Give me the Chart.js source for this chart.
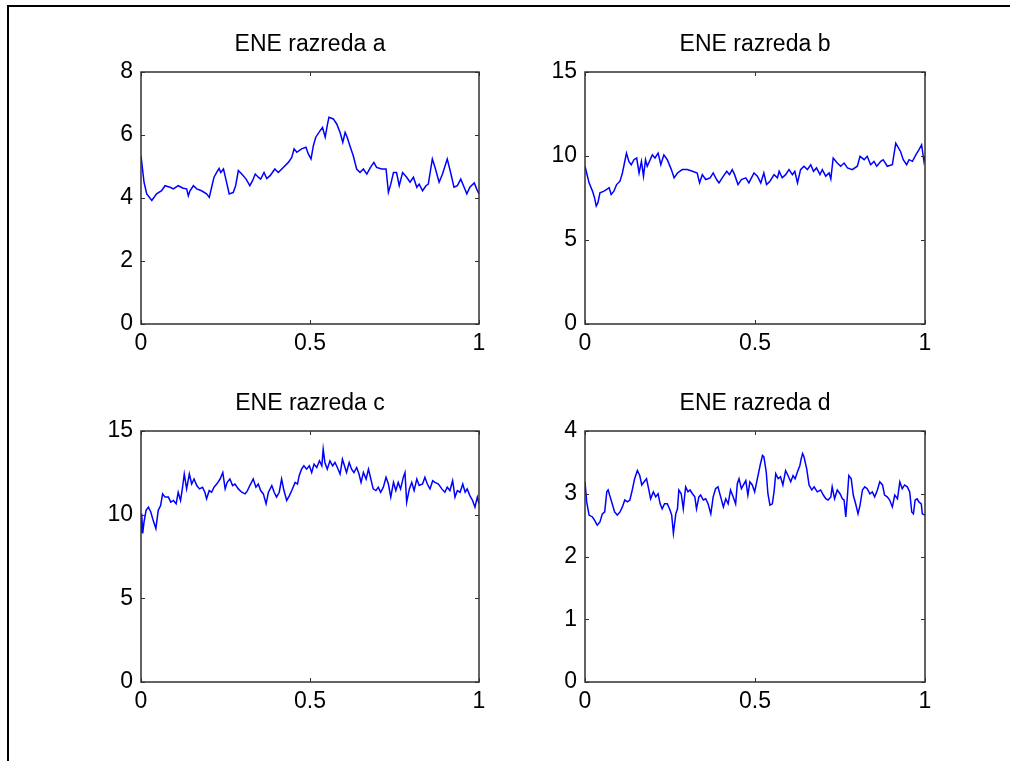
<!DOCTYPE html>
<html>
<head>
<meta charset="utf-8">
<script src="https://cdn.jsdelivr.net/npm/chart.js@4/dist/chart.umd.min.js"></script>
<style>
  html, body { margin: 0; padding: 0; background: #fff; overflow: hidden; }
  body { width: 1010px; height: 761px; position: relative; }
  .frame { position: absolute; left: 7px; top: 5px; width: 1010px; height: 761px;
           border-left: 2px solid #000; border-top: 2px solid #000; }
  canvas { position: absolute; }
</style>
</head>
<body>
<div class="frame"></div>
<canvas id="chartA" width="450" height="369" style="left:50px;top:0px"></canvas>
<canvas id="chartB" width="450" height="369" style="left:500px;top:0px"></canvas>
<canvas id="chartC" width="450" height="368" style="left:50px;top:359px"></canvas>
<canvas id="chartD" width="450" height="368" style="left:500px;top:359px"></canvas>
<script>
// razred a
const aX = [0,0.009,0.017,0.032,0.046,0.061,0.071,0.086,0.096,0.110,0.125,0.135,0.140,0.145,0.155,0.165,0.179,0.194,0.202,0.209,0.216,0.224,0.231,0.236,0.244,0.251,0.261,0.273,0.280,0.288,0.298,0.311,0.322,0.330,0.338,0.347,0.354,0.364,0.372,0.382,0.396,0.406,0.421,0.436,0.446,0.453,0.461,0.475,0.488,0.495,0.503,0.510,0.517,0.530,0.537,0.545,0.551,0.556,0.569,0.579,0.589,0.597,0.604,0.610,0.618,0.628,0.638,0.648,0.658,0.668,0.679,0.689,0.697,0.712,0.725,0.732,0.739,0.747,0.756,0.764,0.774,0.786,0.796,0.806,0.816,0.823,0.833,0.843,0.850,0.862,0.870,0.882,0.892,0.906,0.916,0.926,0.936,0.946,0.956,0.964,0.973,0.986,0.993,1.0];
const aY = [5.34,4.50,4.13,3.92,4.13,4.23,4.39,4.34,4.29,4.39,4.31,4.29,4.07,4.23,4.39,4.29,4.23,4.13,4.02,4.34,4.66,4.81,4.94,4.81,4.92,4.60,4.13,4.18,4.39,4.87,4.76,4.60,4.39,4.55,4.76,4.66,4.60,4.81,4.62,4.71,4.92,4.81,4.97,5.13,5.29,5.56,5.45,5.56,5.61,5.40,5.24,5.66,5.93,6.14,6.24,5.93,6.30,6.56,6.51,6.35,6.08,5.77,6.08,5.93,5.66,5.34,4.92,4.81,4.92,4.76,4.97,5.13,4.97,4.92,4.92,4.18,4.44,4.81,4.81,4.39,4.81,4.66,4.50,4.66,4.34,4.44,4.23,4.39,4.44,5.24,4.97,4.50,4.76,5.24,4.81,4.34,4.39,4.60,4.34,4.13,4.34,4.48,4.29,4.13];

// razred b
const bX = [0,0.012,0.022,0.028,0.033,0.038,0.044,0.056,0.064,0.071,0.077,0.085,0.093,0.103,0.110,0.115,0.122,0.129,0.136,0.144,0.152,0.159,0.166,0.172,0.178,0.183,0.198,0.206,0.215,0.223,0.232,0.242,0.254,0.262,0.272,0.286,0.301,0.316,0.330,0.337,0.345,0.355,0.368,0.377,0.387,0.394,0.407,0.417,0.425,0.433,0.440,0.450,0.460,0.473,0.482,0.497,0.507,0.517,0.526,0.534,0.544,0.556,0.566,0.571,0.580,0.590,0.600,0.610,0.617,0.625,0.634,0.644,0.654,0.664,0.672,0.681,0.691,0.698,0.708,0.718,0.723,0.730,0.742,0.752,0.762,0.772,0.786,0.801,0.809,0.821,0.830,0.840,0.850,0.858,0.870,0.877,0.889,0.904,0.914,0.928,0.936,0.946,0.953,0.963,0.973,0.982,0.990,0.997,1.0];
const bY = [9.39,8.40,7.91,7.52,7.02,7.22,7.81,7.91,8.01,8.11,7.71,7.91,8.30,8.50,8.99,9.48,10.17,9.68,9.48,9.78,9.88,8.99,9.68,8.80,9.78,9.39,10.07,9.88,10.17,9.48,10.07,9.78,9.19,8.70,8.99,9.19,9.19,9.09,8.99,8.40,8.89,8.60,8.70,8.99,8.60,8.40,8.80,9.09,8.89,9.19,8.89,8.30,8.60,8.70,8.40,8.99,8.80,8.40,8.99,8.30,8.50,8.89,8.70,9.09,8.70,8.89,9.19,8.89,9.09,8.40,9.19,9.39,9.19,9.48,9.09,9.29,8.89,9.19,8.80,8.99,8.64,9.88,9.58,9.39,9.58,9.29,9.19,9.39,9.98,9.78,9.98,9.48,9.68,9.39,9.68,9.78,9.39,9.48,10.76,10.27,9.78,9.48,9.78,9.68,10.07,10.37,10.67,9.68,9.98];

// razred c
const cX = [0,0.002,0.005,0.009,0.015,0.022,0.029,0.036,0.044,0.051,0.058,0.064,0.071,0.081,0.088,0.096,0.104,0.110,0.117,0.123,0.128,0.135,0.143,0.150,0.157,0.165,0.173,0.182,0.189,0.194,0.202,0.209,0.216,0.224,0.234,0.242,0.249,0.255,0.263,0.271,0.278,0.288,0.298,0.308,0.315,0.322,0.332,0.340,0.347,0.354,0.362,0.370,0.377,0.387,0.394,0.401,0.409,0.416,0.423,0.431,0.439,0.446,0.456,0.463,0.468,0.475,0.482,0.490,0.498,0.505,0.512,0.520,0.528,0.535,0.539,0.544,0.551,0.559,0.567,0.574,0.581,0.589,0.596,0.602,0.608,0.616,0.623,0.630,0.638,0.645,0.651,0.658,0.666,0.673,0.680,0.687,0.695,0.702,0.709,0.717,0.725,0.732,0.739,0.747,0.754,0.761,0.768,0.776,0.781,0.786,0.794,0.801,0.808,0.816,0.823,0.833,0.840,0.847,0.855,0.863,0.870,0.880,0.890,0.899,0.906,0.914,0.922,0.929,0.936,0.944,0.952,0.959,0.965,0.973,0.981,0.988,0.995,1.0];
const cY = [8.97,10.06,8.88,9.57,10.26,10.45,10.16,9.66,9.17,10.26,10.55,11.24,11.05,11.05,10.75,10.85,10.65,11.34,10.85,11.64,12.43,11.54,12.43,11.83,12.13,11.74,11.54,11.64,11.34,10.95,11.44,11.34,11.64,11.83,12.13,12.52,11.54,11.93,12.13,11.74,11.83,11.54,11.34,11.24,11.44,11.74,12.13,11.64,11.83,11.44,11.24,10.65,11.34,11.74,11.34,11.05,11.34,12.13,11.44,10.85,11.14,11.44,11.93,11.83,12.33,12.72,12.92,12.72,12.92,12.52,13.02,12.82,13.22,12.92,13.91,13.12,12.72,13.22,12.92,13.12,12.82,12.43,13.31,12.92,12.52,13.12,12.72,12.52,12.82,12.43,11.93,12.52,12.13,12.72,12.13,11.54,11.44,11.64,11.34,11.64,12.23,11.83,11.05,11.93,11.44,11.93,11.54,12.23,12.52,10.75,11.54,11.93,11.44,12.13,11.74,11.83,12.23,11.83,11.54,12.03,11.93,11.83,11.54,11.34,11.64,11.44,12.03,11.05,11.44,11.34,11.83,11.34,11.54,11.14,10.85,10.45,11.05,10.65];

// razred d
const dX = [0,0.005,0.012,0.022,0.028,0.036,0.044,0.051,0.058,0.064,0.068,0.074,0.080,0.087,0.095,0.103,0.110,0.117,0.125,0.132,0.139,0.146,0.154,0.161,0.167,0.174,0.181,0.186,0.193,0.201,0.208,0.215,0.221,0.227,0.234,0.242,0.250,0.255,0.260,0.267,0.272,0.276,0.283,0.289,0.296,0.303,0.309,0.316,0.323,0.328,0.335,0.340,0.348,0.355,0.362,0.370,0.377,0.384,0.391,0.399,0.407,0.414,0.421,0.428,0.436,0.443,0.448,0.453,0.460,0.466,0.473,0.479,0.485,0.492,0.499,0.507,0.515,0.522,0.526,0.533,0.538,0.544,0.551,0.556,0.561,0.568,0.575,0.582,0.590,0.597,0.605,0.612,0.618,0.625,0.632,0.636,0.640,0.644,0.652,0.659,0.667,0.674,0.683,0.693,0.701,0.708,0.715,0.723,0.727,0.734,0.742,0.750,0.757,0.762,0.767,0.772,0.776,0.783,0.789,0.796,0.803,0.809,0.816,0.823,0.830,0.838,0.845,0.852,0.860,0.867,0.875,0.881,0.889,0.896,0.904,0.911,0.919,0.926,0.933,0.940,0.948,0.955,0.961,0.966,0.971,0.977,0.982,0.989,0.992,1.0];
const dY = [3.19,2.87,2.66,2.63,2.58,2.50,2.55,2.68,2.71,3.03,3.06,2.95,2.84,2.71,2.66,2.71,2.79,2.90,2.87,2.90,3.06,3.24,3.37,3.29,3.14,3.19,3.24,3.11,2.92,3.03,2.95,3.00,2.84,2.76,2.84,2.84,2.74,2.66,2.37,2.68,2.76,3.06,3.00,2.76,3.11,3.03,3.06,3.00,2.95,2.76,2.95,2.98,2.90,2.92,2.84,2.68,2.95,3.08,3.11,2.95,2.79,2.92,2.84,3.06,2.95,2.84,3.16,3.24,3.08,3.14,3.21,2.98,3.19,3.14,3.03,3.24,3.45,3.61,3.59,3.35,3.00,2.82,2.84,3.03,3.32,3.24,3.27,3.14,3.37,3.29,3.19,3.29,3.24,3.35,3.45,3.56,3.64,3.59,3.40,3.14,3.06,3.11,3.03,3.06,2.98,2.92,2.90,2.95,3.11,2.92,3.06,3.00,2.92,2.90,2.63,2.98,3.29,3.24,2.98,2.84,2.68,2.82,3.06,3.11,3.08,3.00,3.03,2.95,3.06,3.19,3.14,2.98,2.95,2.90,2.79,2.98,2.92,3.19,3.08,3.14,3.11,3.03,2.71,2.68,2.90,2.92,2.87,2.84,2.68,2.66];

const titles = ["ENE razreda a", "ENE razreda b", "ENE razreda c", "ENE razreda d"];
const yMaxes = [8, 15, 15, 4];
const ySteps = [2, 5, 5, 1];
const xTicksStep = 0.5;

const FONT = "'Liberation Sans', Arial, Helvetica, sans-serif";
const AXIS_COLOR = "#303030";
const TICK_LEN = 4;

// matlab-like box with inward ticks on all four sides
const boxPlugin = {
  id: "matlabBox",
  afterDatasetsDraw(chart) {
    const { ctx, chartArea: a, scales } = chart;
    ctx.save();
    ctx.strokeStyle = AXIS_COLOR;
    ctx.lineWidth = 1.5;
    ctx.strokeRect(a.left, a.top, a.right - a.left, a.bottom - a.top);
    ctx.lineWidth = 1;
    ctx.beginPath();
    scales.x.ticks.forEach((t) => {
      const px = Math.round(scales.x.getPixelForValue(t.value)) + 0.5;
      ctx.moveTo(px, a.bottom);
      ctx.lineTo(px, a.bottom - TICK_LEN);
      ctx.moveTo(px, a.top);
      ctx.lineTo(px, a.top + TICK_LEN);
    });
    scales.y.ticks.forEach((t) => {
      const py = Math.round(scales.y.getPixelForValue(t.value)) + 0.5;
      ctx.moveTo(a.left, py);
      ctx.lineTo(a.left + TICK_LEN, py);
      ctx.moveTo(a.right, py);
      ctx.lineTo(a.right - TICK_LEN, py);
    });
    ctx.stroke();
    ctx.restore();
  },
};

function makeChart(id, title, xs, ys, yMax, yStep, yAxisW, padRight) {
  const points = xs.map((x, i) => ({ x: x, y: ys[i] }));
  const config = {
    type: "line",
    data: {
      datasets: [
        {
          data: points,
          borderColor: "#0000ff",
          borderWidth: 1.5,
          pointRadius: 0,
          tension: 0,
          fill: false,
        },
      ],
    },
    options: {
      responsive: false,
      animation: false,
      devicePixelRatio: 1,
      layout: { padding: { left: 0, right: padRight, top: 0, bottom: 0 } },
      plugins: {
        legend: { display: false },
        tooltip: { enabled: false },
        title: {
          display: true,
          text: title,
          fullSize: false,
          color: "#000",
          font: { family: FONT, size: 23, weight: "normal", lineHeight: 1.2 },
          padding: { top: 31, bottom: 13.4 },
        },
      },
      scales: {
        x: {
          type: "linear",
          min: 0,
          max: 1,
          grid: { display: false, drawTicks: false },
          border: { display: false },
          ticks: {
            stepSize: xTicksStep,
            color: "#000",
            padding: 6,
            maxRotation: 0,
            font: { family: FONT, size: 23 },
            // matlab style: 0, 0.5, 1
            callback: (v) => String(+v.toFixed(2)),
          },
          afterFit: (s) => { s.height = 45; },
        },
        y: {
          min: 0,
          max: yMax,
          grid: { display: false, drawTicks: false },
          border: { display: false },
          ticks: {
            stepSize: yStep,
            color: "#000",
            padding: 8,
            font: { family: FONT, size: 23 },
          },
          afterFit: (s) => { s.width = yAxisW; },
        },
      },
    },
    plugins: [boxPlugin],
  };
  return new Chart(document.getElementById(id), config);
}

makeChart("chartA", titles[0], aX, aY, yMaxes[0], ySteps[0], 91, 21);
makeChart("chartB", titles[1], bX, bY, yMaxes[1], ySteps[1], 85, 25);
makeChart("chartC", titles[2], cX, cY, yMaxes[2], ySteps[2], 91, 21);
makeChart("chartD", titles[3], dX, dY, yMaxes[3], ySteps[3], 85, 25);
</script>
</body>
</html>
